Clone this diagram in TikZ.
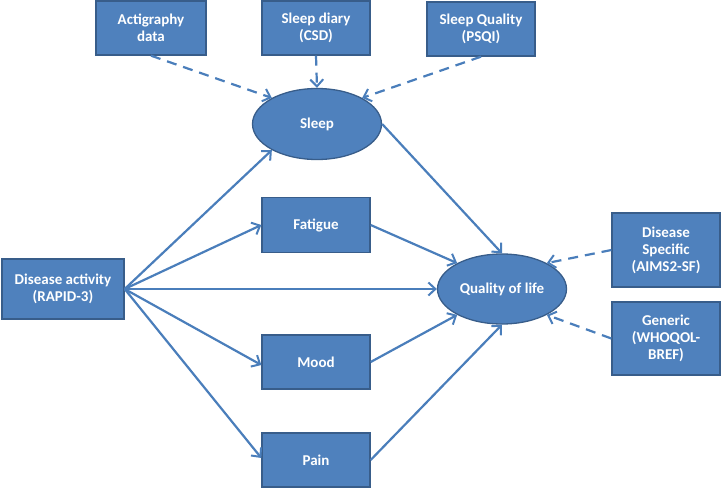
\documentclass[tikz,border=0pt]{standalone}
\usepackage{fontspec}
\setmainfont{Carlito}
\usetikzlibrary{shapes.geometric,arrows.meta}
\definecolor{boxfill}{HTML}{4F81BD}
\definecolor{boxline}{HTML}{385D8A}
\definecolor{arrowc}{HTML}{4A7EBB}
\tikzset{
  base/.style={fill=boxfill,draw=boxline,line width=1.3pt,text=white,
    font=\bfseries\fontsize{15}{17}\selectfont,align=center,inner sep=0pt},
  rbox/.style={base,rectangle,minimum width=108pt,minimum height=54pt},
  oval/.style={base,ellipse,minimum width=129pt,minimum height=71pt},
  conn/.style={draw=arrowc,line width=2.2pt,-{Straight Barb[length=7pt,width=13pt,line width=2pt]}},
  dconn/.style={conn,dash pattern=on 10pt off 7pt}
}
\begin{document}
\begin{tikzpicture}[x=1pt,y=-1pt]
\useasboundingbox (0,0) rectangle (723,490);
\node[rbox,minimum width=110pt] (acti) at (151,28) {Actigraphy\\data};
\node[rbox] (diary) at (316,28) {Sleep diary\\(CSD)};
\node[rbox] (psqi) at (481,29) {Sleep Quality\\(PSQI)};
\node[oval] (sleep) at (317,124) {Sleep};
\node[rbox,minimum height=55pt] (fatigue) at (316,225) {Fatigue};
\node[rbox,minimum width=122pt,minimum height=60pt] (disease) at (63,289) {Disease activity\\(RAPID-3)};
\node[oval,minimum height=70pt] (qol) at (502,289) {Quality of life};
\node[rbox,minimum height=74pt] (aims) at (666,250) {Disease\\Specific\\(AIMS2-SF)};
\node[rbox,minimum height=73pt] (who) at (666,338.5) {Generic\\(WHOQOL-\\BREF)};
\node[rbox] (mood) at (316,362) {Mood};
\node[rbox] (pain) at (316,460) {Pain};

\draw[dconn] (acti.south) -- (sleep.150);
\draw[dconn] (diary.south) -- (sleep.north);
\draw[dconn] (psqi.south) -- (sleep.30);

\draw[conn] (disease.east) -- (sleep.210);
\draw[conn] (disease.east) -- (fatigue.west);
\draw[conn] (disease.east) -- ([yshift=-3pt]mood.west);
\draw[conn] (disease.east) -- ([yshift=2pt]pain.west);
\draw[conn] (disease.east) -- (qol.west);

\draw[conn] (sleep.east) -- (qol.north);
\draw[conn] (fatigue.east) -- (qol.150);
\draw[conn] (mood.east) -- (qol.210);
\draw[conn] (pain.east) -- (qol.south);

\draw[dconn] (aims.west) -- (qol.30);
\draw[dconn] (who.west) -- (qol.-30);
\end{tikzpicture}
\end{document}
